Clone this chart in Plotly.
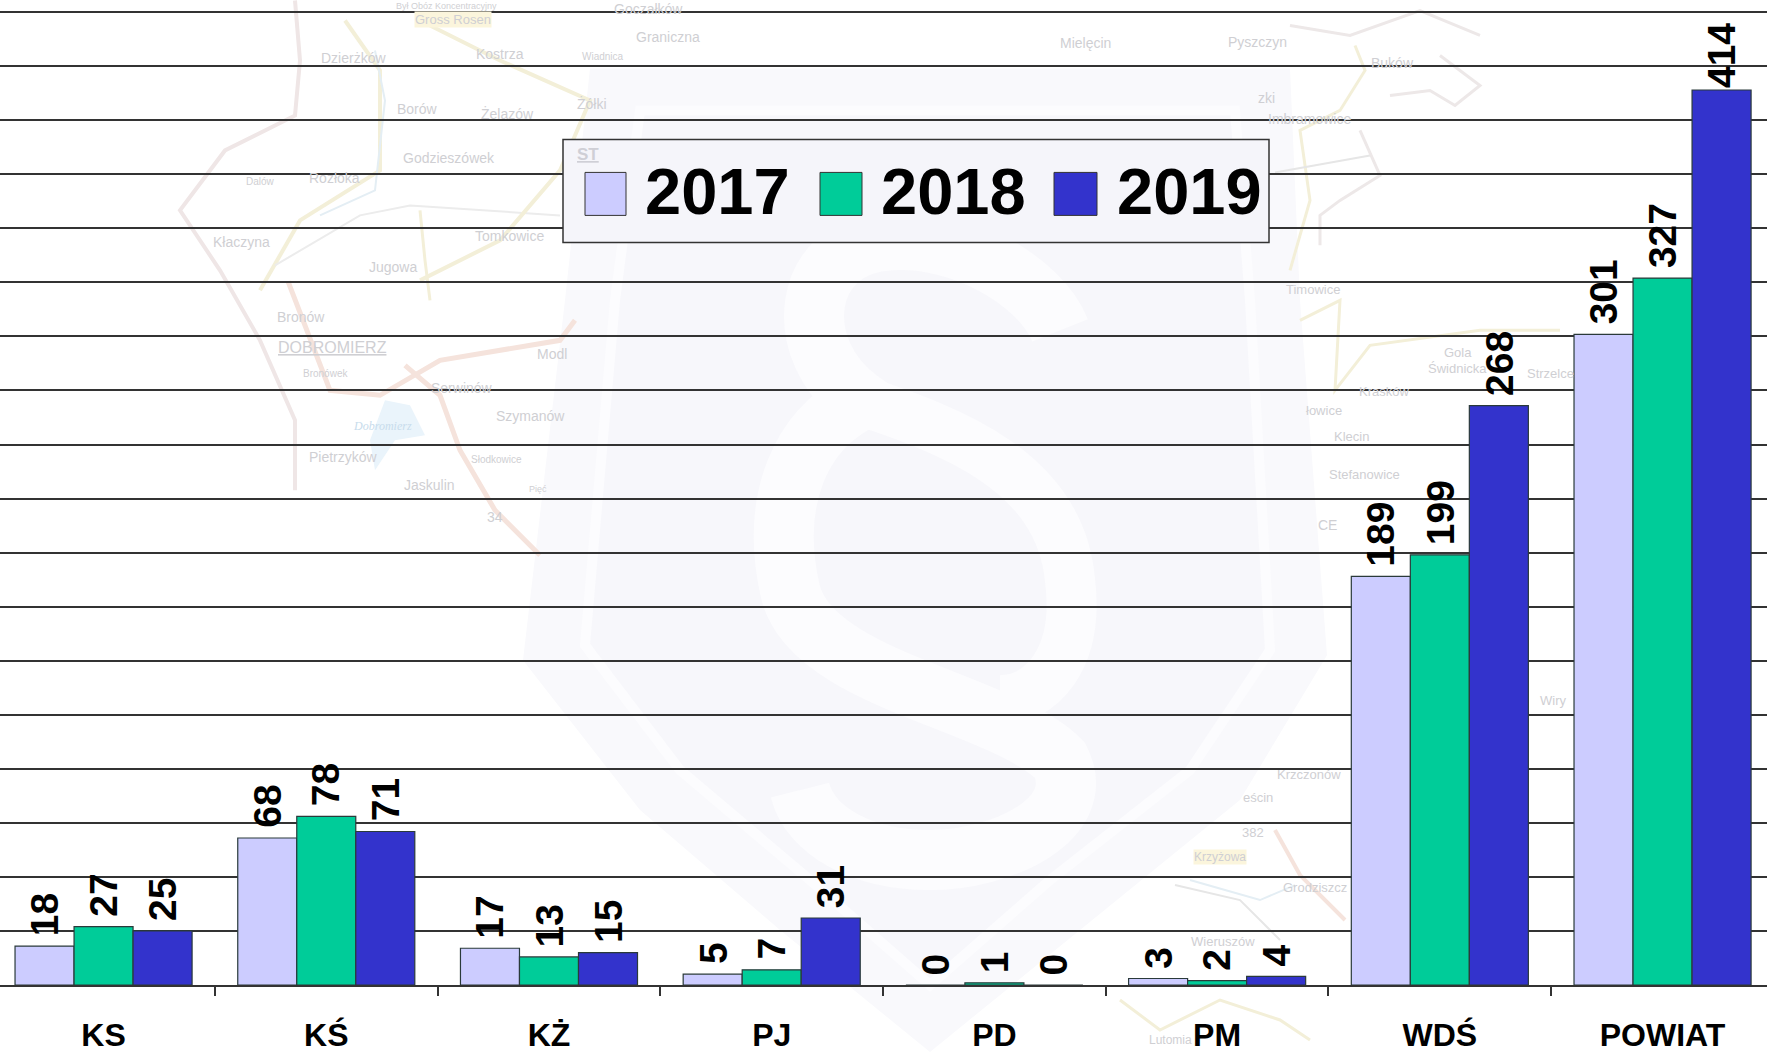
import plotly.graph_objects as go

categories = ["KS", "KŚ", "KŻ", "PJ", "PD", "PM", "WDŚ", "POWIAT"]
years = ["2017", "2018", "2019"]
v2017 = [18, 68, 17, 5, 0, 3, 189, 301]
v2018 = [27, 78, 13, 7, 1, 2, 199, 327]
v2019 = [25, 71, 15, 31, 0, 4, 268, 414]
colors = ["#CCCCFF", "#00CC99", "#3333CC"]

W, H = 1767, 1052
TOP, BASE = 9.5, 985
FONT = "Liberation Sans, Arial, sans-serif"

def px(x, y):
    return x / W, (BASE - y) / (BASE - TOP)

def poly(points, close=True):
    d = ""
    for i, (x, y) in enumerate(points):
        a, b = px(x, y)
        d += ("M" if i == 0 else "L") + f"{a:.5f},{b:.5f} "
    return d + ("Z" if close else "")

def curve(p0, segments):
    a, b = px(*p0)
    d = f"M{a:.5f},{b:.5f} "
    for seg in segments:
        d += "C" + " ".join("%.5f,%.5f" % px(*p) for p in seg) + " "
    return d

shapes = []

# faded badge watermark
shield_outer = [(590, 68), (1290, 68), (1300, 300), (1327, 655), (1240, 800), (1080, 930), (930, 1052),
                (780, 930), (640, 810), (523, 660), (565, 300)]
shield_inner = [(640, 110), (1235, 110), (1250, 300), (1270, 650), (1190, 770), (1050, 880), (930, 985),
                (810, 880), (680, 770), (585, 645), (615, 300)]
shapes.append(dict(type="path", path=poly(shield_outer), fillcolor="#F9F9FC", line=dict(width=0), xref="paper", yref="paper", layer="below"))
shapes.append(dict(type="path", path=poly(shield_inner), fillcolor="#F7F7FB", line=dict(color="#FCFCFE", width=10), xref="paper", yref="paper", layer="below"))
s_path = curve((1060, 330), [
    [(1040, 280), (960, 235), (890, 240)],
    [(800, 245), (790, 350), (860, 400)],
    [(800, 430), (770, 500), (790, 590)],
    [(810, 680), (1000, 700), (1060, 760)],
    [(1090, 820), (1000, 860), (930, 860)],
    [(860, 860), (810, 830), (800, 790)],
])
shapes.append(dict(type="path", path=s_path, line=dict(color="#FCFCFE", width=60), xref="paper", yref="paper", layer="below"))
s_path2 = curve((860, 400), [[(950, 430), (1060, 470), (1070, 580)], [(1080, 660), (1040, 700), (1000, 700)]])
shapes.append(dict(type="path", path=s_path2, line=dict(color="#FCFCFE", width=50), xref="paper", yref="paper", layer="below"))

# faded map lines
map_lines = [
    ("#F5E3DC", 5, [(288, 281), (330, 390), (380, 395), (440, 360), (560, 340), (575, 320)]),
    ("#F5E3DC", 5, [(405, 365), (440, 395), (460, 450), (495, 510), (540, 555)]),
    ("#EFE6E6", 4, [(295, 0), (300, 60), (295, 115), (225, 150), (180, 210), (220, 270), (260, 340), (295, 420), (295, 490)]),
    ("#F3EFD8", 4, [(345, 20), (380, 70), (380, 170), (300, 220), (260, 290)]),
    ("#E4EEF4", 2, [(375, 50), (385, 100), (375, 190), (320, 215)]),
    ("#ECECEC", 2, [(275, 265), (360, 215), (410, 205), (560, 215)]),
    ("#F3EFD8", 4, [(420, 20), (500, 60), (590, 100), (560, 170), (500, 240), (420, 280)]),
    ("#F3EFD8", 3, [(420, 210), (425, 260), (430, 300)]),
    ("#EDE8E8", 3, [(1290, 25), (1350, 35), (1420, 10), (1480, 35)]),
    ("#EDE8E8", 3, [(1390, 95), (1430, 90), (1455, 105), (1480, 85), (1440, 55)]),
    ("#F3EFD8", 3, [(1355, 45), (1365, 70), (1340, 110), (1300, 130), (1310, 200), (1290, 270)]),
    ("#E6E6E6", 2, [(1275, 172), (1370, 155)]),
    ("#EDE8E8", 3, [(1360, 130), (1380, 175), (1340, 200), (1320, 215), (1320, 245)]),
    ("#F5E3DC", 4, [(1275, 830), (1300, 875), (1345, 920)]),
    ("#E4EEF4", 2, [(1190, 880), (1225, 890), (1260, 900), (1295, 885)]),
    ("#E6E6E6", 2, [(1175, 885), (1240, 900), (1280, 940)]),
    ("#F3EFD8", 3, [(1120, 1000), (1160, 1030), (1220, 1000), (1280, 1020), (1310, 1040)]),
    ("#F3EFD8", 3, [(1300, 320), (1340, 300), (1335, 390), (1370, 345), (1480, 330), (1560, 330)]),
]
for c, w, pts in map_lines:
    shapes.append(dict(type="path", path=poly(pts, close=False), line=dict(color=c, width=w), xref="paper", yref="paper", layer="below"))

# lake
lake = [(385, 400), (410, 405), (425, 435), (395, 440), (375, 470), (370, 440)]
shapes.append(dict(type="path", path=poly(lake), fillcolor="#EAF4FB", line=dict(width=0), xref="paper", yref="paper", layer="below"))

annotations = []
map_names = [
    ("Był Obóz Koncentracyjny", 446, 5, 9), ("Gross Rosen", 453, 19, 13), ("Dzierżków", 353, 58, 14),
    ("Kostrza", 500, 54, 14), ("Wiadnica", 603, 56, 10), ("Borów", 417, 109, 14), ("Żelazów", 507, 113, 14),
    ("Żółki", 592, 103, 14), ("Godzieszówek", 449, 158, 14), ("Rozłoka", 334, 178, 14), ("Dalów", 260, 181, 10),
    ("Kłaczyna", 241, 242, 14), ("Tomkowice", 509, 236, 14), ("Jugowa", 393, 267, 14), ("Bronów", 301, 317, 14),
    ("<u>DOBROMIERZ</u>", 332, 347, 16), ("Bronówek", 325, 373, 10), ("Serwinów", 462, 388, 14), ("Modl", 552, 354, 14),
    ("Szymanów", 530, 416, 14), ("Pietrzyków", 343, 457, 14), ("Słodkowice", 496, 459, 10), ("Jaskulin", 429, 485, 14),
    ("Pięć", 538, 489, 9), ("34", 495, 517, 14), ("Goczałków", 648, 8, 14), ("Graniczna", 668, 37, 14), ("Mielęcin", 1085, 43, 14),
    ("Pyszczyn", 1257, 42, 14), ("Buków", 1392, 63, 14), ("zki", 1266, 98, 14), ("Imbramowice", 1309, 119, 14),
    ("Timowice", 1313, 289, 13), ("Gola", 1458, 352, 13), ("Świdnicka", 1457, 368, 13), ("Strzelce", 1550, 373, 13),
    ("Krasków", 1384, 391, 13), ("łowice", 1324, 410, 13), ("Klecin", 1351, 436, 13), ("Stefanowice", 1364, 474, 13),
    ("CE", 1327, 525, 14), ("Wiry", 1553, 700, 13), ("Krzczonów", 1309, 774, 13), ("eścin", 1258, 797, 13),
    ("382", 1253, 832, 13), ("Krzyżowa", 1220, 857, 12), ("Grodziszcz", 1315, 887, 13), ("Wieruszów", 1223, 941, 13),
    ("Lutomia", 1170, 1040, 12),
]
highlighted = {"Gross Rosen", "Krzyżowa"}
for name, x, y, size in map_names:
    a, b = px(x, y)
    annotations.append(dict(text=name, x=a, y=b, xref="paper", yref="paper", showarrow=False, xanchor="center",
                            yanchor="middle", bgcolor="#FBF5DC" if name in highlighted else None,
                            borderpad=0, font=dict(family=FONT, size=size, color="#CFCFD3")))
a, b = px(382, 426)
annotations.append(dict(text="<i>Dobromierz</i>", x=a, y=b, xref="paper", yref="paper", showarrow=False, xanchor="center",
                        yanchor="middle", font=dict(family="Liberation Serif, serif", size=12, color="#C8DCEC")))

# value labels, one per bar, placed from the data through the axes
bar_step = 59
for k, vals in enumerate([v2017, v2018, v2019]):
    for cat, v in zip(categories, vals):
        annotations.append(dict(text=f"<b>{v}</b>", x=cat, y=v, xref="x", yref="y", showarrow=False, textangle=-90,
                                xanchor="center", yanchor="bottom", xshift=(k - 1) * bar_step,
                                yshift=1 if v == 414 else 9, borderpad=0,
                                font=dict(family=FONT, size=39, color="#000000")))

# legend box drawn to scale
lx0, ly0 = px(563, 139)
lx1, ly1 = px(1269, 242)
shapes.append(dict(type="rect", x0=lx0, y0=ly0, x1=lx1, y1=ly1, xref="paper", yref="paper", layer="above",
                   fillcolor="#F5F5FA", line=dict(color="#333333", width=1.5)))
swatch_x = [(585, 626), (820, 862), (1054, 1097)]
text_x = [645, 881, 1117]
for (x0, x1), tx, yr, col in zip(swatch_x, text_x, years, colors):
    a0, b0 = px(x0, 172)
    a1, b1 = px(x1, 215)
    shapes.append(dict(type="rect", x0=a0, y0=b0, x1=a1, y1=b1, xref="paper", yref="paper", layer="above",
                       fillcolor=col, line=dict(color="#333333", width=1)))
    a, b = px(tx, 191)
    annotations.append(dict(text=f"<b>{yr}</b>", x=a, y=b, xref="paper", yref="paper", showarrow=False,
                            xanchor="left", yanchor="middle", xshift=-2,
                            font=dict(family=FONT, size=65, color="#000000")))
a, b = px(588, 154)
annotations.append(dict(text="<b><u>ST</u></b>", x=a, y=b, xref="paper", yref="paper", showarrow=False,
                        xanchor="center", yanchor="middle",
                        font=dict(family=FONT, size=17, color="#CFCFD6")))

fig = go.Figure()
for name, vals, col in zip(years, [v2017, v2018, v2019], colors):
    fig.add_trace(go.Bar(
        name=name, x=categories, y=vals, marker=dict(color=col, line=dict(color="#2A3A3A", width=1.2)),
    ))

fig.update_layout(
    width=W, height=H, autosize=False, barmode="group", bargap=0.205, bargroupgap=0, showlegend=False,
    paper_bgcolor="#FFFFFF", plot_bgcolor="rgba(0,0,0,0)",
    margin=dict(l=0, r=0, t=TOP, b=H - BASE, pad=0), shapes=shapes, annotations=annotations,
    xaxis=dict(type="category", range=[-0.465, 7.469], tickson="boundaries", ticks="outside", ticklen=9, tickwidth=1.5,
               tickcolor="#333333", showline=True, linecolor="#333333", linewidth=1.5, showgrid=False,
               ticklabelstandoff=21, tickfont=dict(family=FONT, size=32, color="#000000", weight="bold"), zeroline=False),
    yaxis=dict(range=[0, 451], tick0=0, dtick=25, showgrid=True, gridcolor="#333333", gridwidth=1.5,
               showticklabels=False, ticks="", zeroline=False, showline=False),
)
fig.write_html("out.html", config=dict(displayModeBar=False),
               post_script="document.body.style.margin='0';document.body.style.overflow='hidden';")
